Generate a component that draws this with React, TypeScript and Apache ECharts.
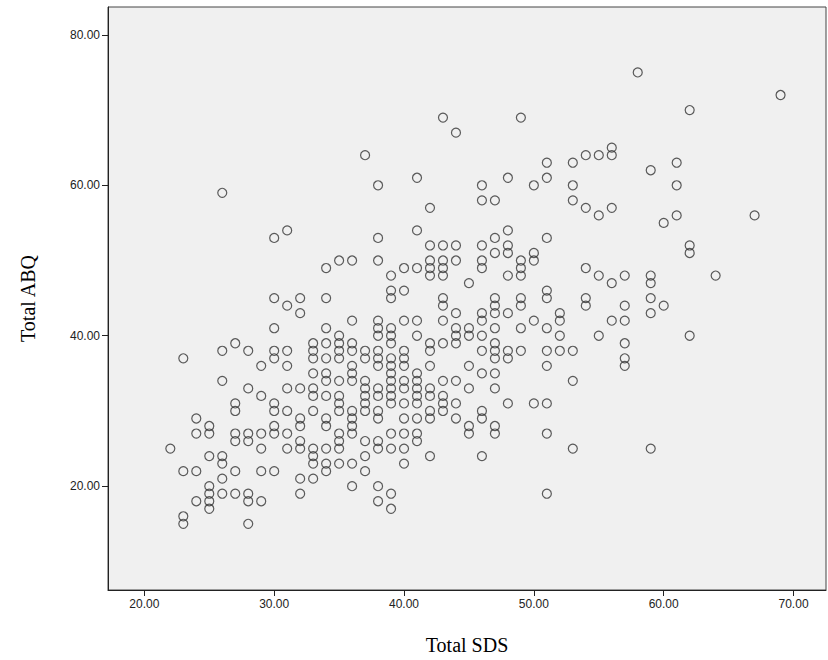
import { useEffect, useRef } from 'react'
import * as echarts from 'echarts'

// [Total SDS, Total ABQ] pairs
const lowSds: number[][] = [
  [30, 45], [31, 44], [32, 45], [32, 43], [30, 41], [23, 37], [26, 38], [27, 39], [28, 38], [30, 38],
  [30, 37], [31, 38], [29, 36], [31, 36], [26, 34], [28, 33], [29, 32], [31, 33], [32, 33], [27, 31],
  [27, 30], [30, 31], [30, 30], [31, 30], [24, 29], [25, 28], [24, 27], [25, 27], [27, 27], [27, 26],
  [28, 27], [28, 26], [29, 27], [30, 28], [30, 27], [31, 27], [32, 29], [32, 28], [32, 26], [32, 25],
  [22, 25], [25, 24], [26, 24], [26, 23], [29, 25], [31, 25], [23, 22], [24, 22], [27, 22], [29, 22],
  [30, 22], [26, 21], [32, 21], [25, 20], [25, 19], [25, 18], [25, 17], [26, 19], [27, 19], [28, 19],
  [28, 18], [29, 18], [24, 18], [32, 19], [23, 16], [23, 15], [28, 15], [26, 59], [30, 53], [31, 54],
]

const midSds: number[][] = [
  [39, 46], [39, 45], [40, 46], [34, 45], [43, 45], [43, 44], [44, 43], [36, 42], [38, 42], [38, 41],
  [38, 40], [39, 41], [39, 40], [39, 39], [40, 42], [41, 42], [41, 40], [43, 42], [44, 41], [44, 40],
  [44, 39], [34, 41], [33, 39], [33, 38], [33, 37], [34, 39], [34, 37], [35, 40], [35, 39], [35, 38],
  [35, 37], [36, 39], [36, 38], [37, 38], [37, 37], [38, 38], [38, 37], [38, 36], [39, 37], [39, 36],
  [39, 35], [39, 34], [39, 33], [39, 32], [39, 31], [40, 38], [40, 37], [40, 36], [42, 39], [42, 38],
  [43, 39], [42, 36], [36, 36], [36, 35], [36, 34], [33, 35], [34, 35], [34, 34], [35, 34], [37, 34],
  [37, 33], [37, 32], [37, 31], [37, 30], [38, 33], [38, 32], [40, 34], [40, 33], [41, 35], [41, 34],
  [41, 33], [41, 32], [41, 31], [42, 33], [42, 32], [43, 34], [44, 34], [33, 33], [33, 32], [34, 32],
  [35, 32], [35, 31], [35, 30], [33, 30], [36, 30], [36, 29], [36, 28], [36, 27], [38, 30], [38, 29],
  [40, 31], [40, 29], [41, 29], [42, 30], [42, 29], [43, 32], [43, 31], [43, 30], [44, 31], [44, 29],
  [34, 29], [34, 28], [35, 27], [35, 26], [35, 25], [37, 26], [38, 26], [38, 25], [39, 27], [39, 25],
  [40, 27], [40, 25], [41, 27], [41, 26], [33, 25], [33, 24], [33, 23], [34, 25], [34, 23], [34, 22],
  [35, 23], [36, 23], [37, 24], [37, 22], [40, 23], [42, 24], [33, 21], [36, 20], [38, 20], [38, 18],
  [39, 19], [39, 17], [43, 69], [44, 67], [37, 64], [38, 60], [41, 61], [42, 57], [41, 54], [38, 53],
  [42, 52], [43, 52], [44, 52], [34, 49], [35, 50], [36, 50], [38, 50], [39, 48], [40, 49], [41, 49],
  [42, 50], [42, 49], [42, 48], [43, 50], [43, 49], [43, 48], [44, 50], [45, 47],
]

const highSds: number[][] = [
  [47, 45], [47, 44], [47, 43], [49, 45], [49, 44], [51, 46], [51, 45], [54, 45], [54, 44], [57, 44],
  [46, 43], [46, 42], [48, 43], [52, 43], [52, 42], [50, 42], [56, 42], [57, 42], [45, 41], [45, 40],
  [46, 40], [47, 41], [49, 41], [51, 41], [52, 40], [55, 40], [57, 39], [46, 38], [47, 39], [47, 38],
  [47, 37], [48, 38], [48, 37], [49, 38], [51, 38], [52, 38], [53, 38], [57, 37], [57, 36], [45, 36],
  [46, 35], [47, 35], [51, 36], [53, 34], [45, 33], [47, 33], [48, 31], [50, 31], [51, 31], [46, 30],
  [46, 29], [45, 28], [45, 27], [47, 28], [47, 27], [51, 27], [53, 25], [46, 24], [51, 19],
  [59, 47], [59, 45], [60, 44], [59, 43], [62, 40], [59, 25], [64, 48],
  [58, 75], [49, 69], [56, 65], [56, 64], [54, 64], [55, 64], [51, 63], [53, 63], [48, 61], [51, 61],
  [46, 60], [50, 60], [53, 60], [46, 58], [47, 58], [53, 58], [54, 57], [55, 56], [56, 57], [48, 54],
  [47, 53], [51, 53], [46, 52], [48, 52], [48, 51], [47, 51], [46, 50], [46, 49], [49, 50], [49, 49],
  [49, 48], [50, 51], [50, 50], [48, 48], [54, 49], [55, 48], [56, 47], [57, 48],
  [69, 72], [62, 70], [61, 63], [59, 62], [61, 60], [61, 56], [60, 55], [67, 56], [62, 52], [62, 51],
  [59, 48],
]

const xTicks = [20, 30, 40, 50, 60, 70]
const yTicks = [20, 40, 60, 80]

export default function App() {
  const chartRef = useRef<HTMLDivElement>(null)

  useEffect(() => {
    if (!chartRef.current) return
    const chart = echarts.init(chartRef.current, null, { renderer: 'svg' })

    const axisText = { color: '#222', fontSize: 12, fontFamily: 'Liberation Sans, Arial, sans-serif' }
    const nameText = { color: '#000', fontSize: 20, fontFamily: 'Liberation Serif, Times New Roman, serif' }

    chart.setOption({
      animation: false,
      grid: {
        left: 108, right: 2, top: 7, bottom: 68,
        show: true, backgroundColor: '#f0f0f0', borderColor: '#444', borderWidth: 1,
      },
      xAxis: {
        type: 'value', min: 17.2, max: 72.5,
        name: 'Total SDS', nameLocation: 'middle', nameGap: 45, nameTextStyle: nameText,
        splitLine: { show: false },
        axisLine: { lineStyle: { color: '#222' } },
        axisTick: { customValues: xTicks, length: 6, lineStyle: { color: '#222' } },
        axisLabel: { ...axisText, customValues: xTicks, margin: 8, formatter: (v: number) => v.toFixed(2) },
      },
      yAxis: {
        type: 'value', min: 6.2, max: 83.7,
        name: 'Total ABQ', nameLocation: 'middle', nameGap: 70, nameTextStyle: nameText,
        splitLine: { show: false },
        axisLine: { lineStyle: { color: '#222' } },
        axisTick: { customValues: yTicks, length: 6, lineStyle: { color: '#222' } },
        axisLabel: { ...axisText, customValues: yTicks, margin: 8, formatter: (v: number) => v.toFixed(2) },
      },
      series: [
        {
          type: 'scatter',
          data: [...lowSds, ...midSds, ...highSds],
          symbol: 'circle',
          symbolSize: 9,
          itemStyle: { color: 'transparent', borderColor: '#333', borderWidth: 1.2 },
        },
      ],
    })

    return () => {
      chart.dispose()
    }
  }, [])

  return <div ref={chartRef} style={{ position: 'absolute', left: 0, top: 0, width: 828, height: 660 }} />
}
